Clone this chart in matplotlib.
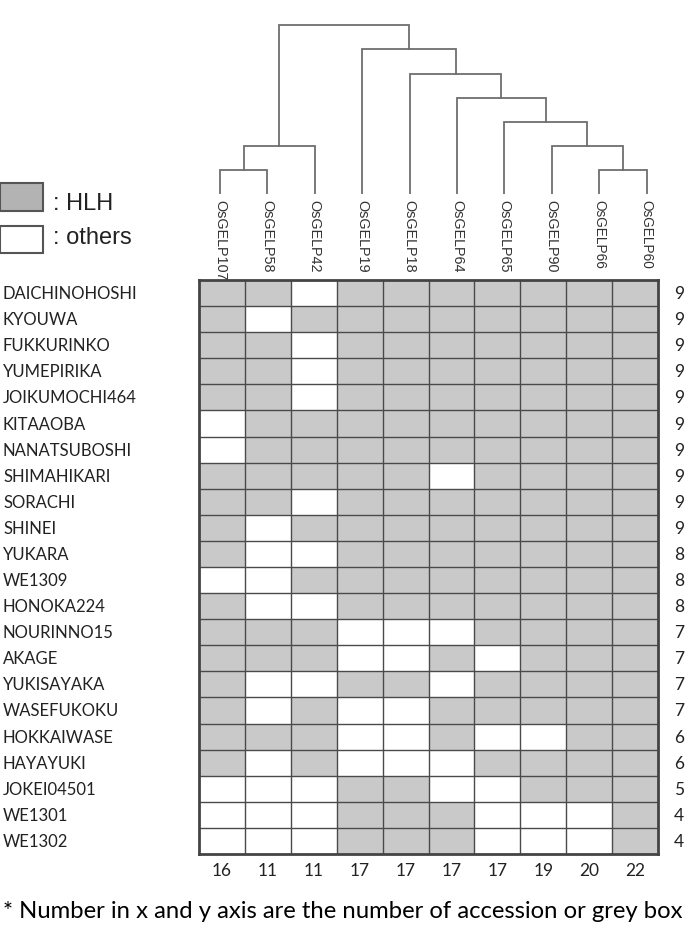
import matplotlib
matplotlib.use("Agg")
import matplotlib.pyplot as plt
import matplotlib.transforms as mtransforms
from matplotlib.patches import Rectangle
import numpy as np


genes = ['OsGELP107', 'OsGELP58', 'OsGELP42', 'OsGELP19', 'OsGELP18',
         'OsGELP64', 'OsGELP65', 'OsGELP90', 'OsGELP66', 'OsGELP60']

varieties = ['DAICHINOHOSHI', 'KYOUWA', 'FUKKURINKO', 'YUMEPIRIKA', 'JOIKUMOCHI464',
             'KITAAOBA', 'NANATSUBOSHI', 'SHIMAHIKARI', 'SORACHI', 'SHINEI',
             'YUKARA', 'WE1309', 'HONOKA224', 'NOURINNO15', 'AKAGE',
             'YUKISAYAKA', 'WASEFUKOKU', 'HOKKAIWASE', 'HAYAYUKI', 'JOKEI04501',
             'WE1301', 'WE1302']

# 1 = HLH (grey), 0 = others (white)
hlh = [
    [1, 1, 0, 1, 1, 1, 1, 1, 1, 1],
    [1, 0, 1, 1, 1, 1, 1, 1, 1, 1],
    [1, 1, 0, 1, 1, 1, 1, 1, 1, 1],
    [1, 1, 0, 1, 1, 1, 1, 1, 1, 1],
    [1, 1, 0, 1, 1, 1, 1, 1, 1, 1],
    [0, 1, 1, 1, 1, 1, 1, 1, 1, 1],
    [0, 1, 1, 1, 1, 1, 1, 1, 1, 1],
    [1, 1, 1, 1, 1, 0, 1, 1, 1, 1],
    [1, 1, 0, 1, 1, 1, 1, 1, 1, 1],
    [1, 0, 1, 1, 1, 1, 1, 1, 1, 1],
    [1, 0, 0, 1, 1, 1, 1, 1, 1, 1],
    [0, 0, 1, 1, 1, 1, 1, 1, 1, 1],
    [1, 0, 0, 1, 1, 1, 1, 1, 1, 1],
    [1, 1, 1, 0, 0, 0, 1, 1, 1, 1],
    [1, 1, 1, 0, 0, 1, 0, 1, 1, 1],
    [1, 0, 0, 1, 1, 0, 1, 1, 1, 1],
    [1, 0, 1, 0, 0, 1, 1, 1, 1, 1],
    [1, 1, 1, 0, 0, 1, 0, 0, 1, 1],
    [1, 0, 1, 0, 0, 0, 1, 1, 1, 1],
    [0, 0, 0, 1, 1, 0, 0, 1, 1, 1],
    [0, 0, 0, 1, 1, 1, 0, 0, 0, 1],
    [0, 0, 0, 1, 1, 1, 0, 0, 0, 1],
]

row_counts = [9, 9, 9, 9, 9, 9, 9, 9, 9, 9, 8, 8, 8, 7, 7, 7, 7, 6, 6, 5, 4, 4]
col_counts = [16, 11, 11, 17, 17, 17, 17, 19, 20, 22]

# dendrogram merges: (child a, child b, height); leaves are 0..9, new nodes 10..
merges = [(0, 1, 1), (10, 2, 2), (8, 9, 1), (7, 12, 2), (6, 13, 3),
          (5, 14, 4), (4, 15, 5), (3, 16, 6), (11, 17, 7)]


W, H = 688, 928
fig = plt.figure(figsize=(W / 100, H / 100), dpi=100)

label_font = ['Lato', 'DejaVu Sans']

# ---- heat grid ----
gl, gr, gt, gb = 199, 658, 281, 855
ax = fig.add_axes([gl / W, 1 - gb / H, (gr - gl) / W, (gb - gt) / H])
data = np.array(hlh)
nrow, ncol = data.shape
ax.pcolormesh(np.arange(ncol + 1), np.arange(nrow + 1), data,
              cmap=matplotlib.colors.ListedColormap(['white', '#c9c9c9']),
              vmin=0, vmax=1)
ax.set_xlim(0, ncol)
ax.set_ylim(nrow, 0)
for x in range(1, ncol):
    ax.axvline(x, color='#4a4a4a', lw=1.0)
for y in range(1, nrow):
    ax.axhline(y, color='#4a4a4a', lw=1.0)
ax.set_xticks([])
ax.set_yticks([])
for s in ax.spines.values():
    s.set_color('#444444')
    s.set_linewidth(2)

tr_y = mtransforms.blended_transform_factory(fig.transFigure, ax.transData)
tr_x = mtransforms.blended_transform_factory(ax.transData, fig.transFigure)
for i, name in enumerate(varieties):
    ax.text(3 / W, i + 0.5, name, transform=tr_y, ha='left', va='center',
            fontsize=12, family=label_font, color='#222222')
    ax.text(679 / W, i + 0.5, str(row_counts[i]), transform=tr_y, ha='center',
            va='center', fontsize=12.5, family=label_font, color='#222222')
for j, c in enumerate(col_counts):
    ax.text(j + 0.5, 1 - 871 / H, str(c), transform=tr_x, ha='center',
            va='center', fontsize=12.5, family=label_font, color='#222222')

# ---- dendrogram ----
dl, dr, dt, db = 196.3, 670.3, 2.2, 195
dax = fig.add_axes([dl / W, 1 - db / H, (dr - dl) / W, (db - dt) / H])
dax.set_xlim(-0.5, 9.5)
dax.set_ylim(0, 8)
dax.axis('off')
node_x = {i: float(i) for i in range(len(genes))}
node_h = {i: 0.0 for i in range(len(genes))}
for k, (a, b, h) in enumerate(merges):
    xa, xb = node_x[a], node_x[b]
    dax.plot([xa, xa, xb, xb], [node_h[a], h, h, node_h[b]],
             color='#6e6e6e', lw=1.3, solid_joinstyle='miter')
    nid = len(genes) + k
    node_x[nid] = (xa + xb) / 2
    node_h[nid] = h
for i, g in enumerate(genes):
    dax.text(i, -0.2, g, rotation=270, ha='center', va='top', clip_on=False,
             fontsize=10.4 if i < 8 else 9.8, family='Liberation Sans',
             color='#333333')

# ---- legend ----
fig.patches.append(Rectangle((0, 1 - 212 / H), 43 / W, 28 / H, transform=fig.transFigure,
                             facecolor='#b3b3b3', edgecolor='#555555', lw=1.5))
fig.patches.append(Rectangle((0, 1 - 254 / H), 43 / W, 27 / H, transform=fig.transFigure,
                             facecolor='white', edgecolor='#555555', lw=1.5))
fig.text(53 / W, 1 - 204 / H, ': HLH', ha='left', va='center', fontsize=17,
         family='Liberation Sans', color='#222222')
fig.text(53 / W, 1 - 238 / H, ': others', ha='left', va='center', fontsize=17,
         family='Liberation Sans', color='#222222')

# ---- footnote ----
fig.text(3 / W, 1 - 912 / H, '* Number in x and y axis are the number of accession or grey box',
         ha='left', va='center', fontsize=17.2, family=label_font, color='black')

fig.savefig('out.png', dpi=100)
